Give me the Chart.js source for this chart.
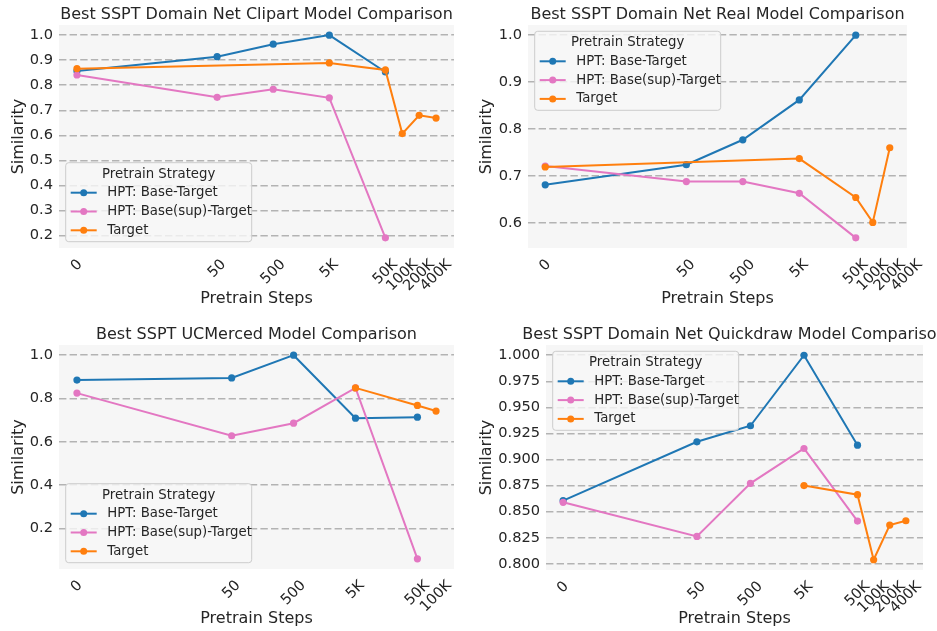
<!DOCTYPE html>
<html>
<head>
<meta charset="utf-8">
<script src="https://cdn.jsdelivr.net/npm/chart.js@4.4.1/dist/chart.umd.min.js"></script>
<style>
  html, body { margin: 0; padding: 0; background: #ffffff; }
  #wrap { position: relative; width: 937px; height: 631px; overflow: hidden; background: #ffffff; }
  canvas { position: absolute; }
</style>
</head>
<body>
<div id="wrap">
  <canvas id="c1" width="468" height="315" style="left:0px;top:0px"></canvas>
  <canvas id="c2" width="469" height="315" style="left:468px;top:0px"></canvas>
  <canvas id="c3" width="468" height="316" style="left:0px;top:315px"></canvas>
  <canvas id="c4" width="469" height="316" style="left:468px;top:315px"></canvas>
</div>
<script>
// ---------------- DATA ----------------
const seriesNames = ['HPT: Base-Target', 'HPT: Base(sup)-Target', 'Target'];
const legendTitle = 'Pretrain Strategy';
const xAxisTitle = 'Pretrain Steps';
const yAxisTitle = 'Similarity';

const stepTicks = [0, 50, 500, 5000, 50000, 100000, 200000, 400000];
const stepTickLabels = ['0', '50', '500', '5K', '50K', '100K', '200K', '400K'];
const ucStepTicks = [0, 50, 500, 5000, 50000, 100000];
const ucStepTickLabels = ['0', '50', '500', '5K', '50K', '100K'];

const hptSteps = [0, 50, 500, 5000, 50000];

// Domain Net Clipart
const clipartTitle = 'Best SSPT Domain Net Clipart Model Comparison';
const clipartBaseTarget = [0.857, 0.914, 0.964, 1.000, 0.853];
const clipartBaseSupTarget = [0.841, 0.752, 0.784, 0.750, 0.191];
const clipartTargetSteps = [0, 5000, 50000, 100000, 200000, 400000];
const clipartTarget = [0.866, 0.889, 0.861, 0.607, 0.680, 0.669];
const clipartYTicks = [0.2, 0.3, 0.4, 0.5, 0.6, 0.7, 0.8, 0.9, 1.0];

// Domain Net Real
const realTitle = 'Best SSPT Domain Net Real Model Comparison';
const realBaseTarget = [0.681, 0.724, 0.777, 0.862, 1.000];
const realBaseSupTarget = [0.721, 0.688, 0.688, 0.663, 0.568];
const realTargetSteps = [0, 5000, 50000, 100000, 200000];
const realTarget = [0.719, 0.737, 0.654, 0.601, 0.760];
const realYTicks = [0.6, 0.7, 0.8, 0.9, 1.0];

// UCMerced
const ucTitle = 'Best SSPT UCMerced Model Comparison';
const ucBaseTarget = [0.885, 0.895, 1.000, 0.709, 0.714];
const ucBaseSupTarget = [0.825, 0.628, 0.686, 0.849, 0.060];
const ucTargetSteps = [5000, 50000, 100000];
const ucTarget = [0.849, 0.768, 0.742];
const ucYTicks = [0.2, 0.4, 0.6, 0.8, 1.0];

// Domain Net Quickdraw
const qdTitle = 'Best SSPT Domain Net Quickdraw Model Comparison';
const qdBaseTarget = [0.8606, 0.9170, 0.9324, 1.0000, 0.9138];
const qdBaseSupTarget = [0.8590, 0.8263, 0.8772, 0.9106, 0.8410];
const qdTargetSteps = [5000, 50000, 100000, 200000, 400000];
const qdTarget = [0.8750, 0.8663, 0.8039, 0.8372, 0.8413];
const qdYTicks = [0.800, 0.825, 0.850, 0.875, 0.900, 0.925, 0.950, 0.975, 1.000];

// ---------------- STYLE ----------------
const COLORS = ['#1f77b4', '#e377c2', '#ff7f0e'];
const TEXT = '#262626';
const FONT = 'DejaVu Sans';
const PLOT_BG = '#f6f6f6';
const ZERO_POS = -0.8; // axis position (in decades) where step 0 is placed

Chart.defaults.font.family = FONT;
Chart.defaults.color = TEXT;

// ---------------- custom log-like step scale ----------------
function stepPos(s) { return s > 0 ? Math.log10(s) : ZERO_POS; }

class StepScale extends Chart.LinearScale {
  determineDataLimits() {
    const mm = this.getMinMax(false);
    const lo = stepPos(mm.min), hi = stepPos(mm.max);
    const m = (hi - lo) * 0.05;
    this.min = lo - m;
    this.max = hi + m;
  }
  buildTicks() { return []; }
  getPixelForValue(v) {
    if (v === null || v === undefined) return NaN;
    return this.getPixelForDecimal((stepPos(v) - this._startValue) / this._valueRange);
  }
}
StepScale.id = 'steps';
StepScale.defaults = {};
Chart.register(StepScale);

// ---------------- plugins ----------------
const bgPlugin = {
  id: 'plotBg',
  beforeDraw(chart) {
    const { ctx, chartArea: ca } = chart;
    ctx.save();
    ctx.fillStyle = PLOT_BG;
    ctx.fillRect(ca.left, ca.top, ca.right - ca.left, ca.bottom - ca.top);
    ctx.restore();
    // matplotlib-like centring of rotated x tick labels on their ticks
    const sc = chart.scales.x;
    const items = sc.getLabelItems(ca);
    items.forEach(it => {
      if (it._fixed) return;
      ctx.save();
      ctx.font = it.font.string;
      const w = ctx.measureText(it.label).width;
      ctx.restore();
      it.options.translation[0] += 0.354 * w;
      it._fixed = true;
    });
  }
};

const titlePlugin = {
  id: 'mplTitle',
  afterDraw(chart, args, opts) {
    const { ctx, chartArea: ca } = chart;
    ctx.save();
    ctx.font = '16px "' + FONT + '"';
    ctx.fillStyle = TEXT;
    ctx.textAlign = 'center';
    ctx.textBaseline = 'alphabetic';
    ctx.fillText(opts.text, (ca.left + ca.right) / 2, ca.top - 6.3);
    ctx.restore();
  }
};

const legendPlugin = {
  id: 'mplLegend',
  afterDatasetsDraw(chart, args, opts) {
    const { ctx, chartArea: ca } = chart;
    const W = 186, H = 79, r = 3;
    const x0 = ca.left + 6.7;
    const y0 = opts.pos === 'top' ? ca.top + 6.3 : ca.bottom - 6.3 - H;
    ctx.save();
    ctx.beginPath();
    ctx.moveTo(x0 + r, y0);
    ctx.lineTo(x0 + W - r, y0);
    ctx.quadraticCurveTo(x0 + W, y0, x0 + W, y0 + r);
    ctx.lineTo(x0 + W, y0 + H - r);
    ctx.quadraticCurveTo(x0 + W, y0 + H, x0 + W - r, y0 + H);
    ctx.lineTo(x0 + r, y0 + H);
    ctx.quadraticCurveTo(x0, y0 + H, x0, y0 + H - r);
    ctx.lineTo(x0, y0 + r);
    ctx.quadraticCurveTo(x0, y0, x0 + r, y0);
    ctx.closePath();
    ctx.fillStyle = 'rgba(246,246,246,0.82)';
    ctx.fill();
    ctx.strokeStyle = '#cccccc';
    ctx.lineWidth = 1;
    ctx.stroke();

    ctx.font = '13.3px "' + FONT + '"';
    ctx.fillStyle = TEXT;
    ctx.textBaseline = 'middle';
    ctx.textAlign = 'center';
    ctx.fillText(legendTitle, x0 + W / 2, y0 + 11.5);
    ctx.textAlign = 'left';
    chart.data.datasets.forEach((ds, i) => {
      const y = y0 + 30 + i * 18.8;
      ctx.strokeStyle = ds.borderColor;
      ctx.lineWidth = 2;
      ctx.beginPath();
      ctx.moveTo(x0 + 5, y);
      ctx.lineTo(x0 + 31, y);
      ctx.stroke();
      ctx.fillStyle = ds.borderColor;
      ctx.beginPath();
      ctx.arc(x0 + 18, y, 3.5, 0, Math.PI * 2);
      ctx.fill();
      ctx.fillStyle = TEXT;
      ctx.fillText(ds.label, x0 + 41.6, y);
    });
    ctx.restore();
  }
};

// ---------------- builders ----------------
function pts(xs, ys) { return xs.map((x, i) => ({ x: x, y: ys[i] })); }

function yRange(arrs) {
  const all = [].concat(...arrs);
  const lo = Math.min(...all), hi = Math.max(...all);
  const m = (hi - lo) * 0.05;
  return { min: lo - m, max: hi + m };
}

function makeChart(id, cfg) {
  const yr = yRange([cfg.base, cfg.sup, cfg.target]);
  const mk = (label, data, color, order) => ({
    label: label, data: data, borderColor: color, backgroundColor: color,
    pointBackgroundColor: color, pointBorderColor: color, pointBorderWidth: 0,
    pointRadius: 3.6, borderWidth: 2, tension: 0, fill: false, order: order
  });
  return new Chart(document.getElementById(id), {
    type: 'line',
    data: {
      datasets: [
        mk(seriesNames[0], pts(hptSteps, cfg.base), COLORS[0], 2),
        mk(seriesNames[1], pts(hptSteps, cfg.sup), COLORS[1], 1),
        mk(seriesNames[2], pts(cfg.tSteps, cfg.target), COLORS[2], 0)
      ]
    },
    plugins: [bgPlugin, titlePlugin, legendPlugin],
    options: {
      responsive: false,
      animation: false,
      events: [],
      layout: { padding: cfg.pad },
      plugins: {
        legend: { display: false },
        tooltip: { enabled: false },
        mplTitle: { text: cfg.title },
        mplLegend: { pos: cfg.legendPos }
      },
      scales: {
        x: {
          type: 'steps',
          position: 'bottom',
          grid: { display: false, drawTicks: false },
          border: { display: false },
          afterBuildTicks: s => { s.ticks = cfg.xTicks.map(v => ({ value: v })); },
          afterFit: s => { s.height = cfg.xH; },
          ticks: {
            autoSkip: false, minRotation: 45, maxRotation: 45, padding: 8,
            font: { size: 14.6 }, color: TEXT,
            callback: (v, i) => cfg.xLabels[i]
          },
          title: { display: true, text: xAxisTitle, font: { size: 16 }, color: TEXT,
                   padding: { top: 0, bottom: cfg.xTitlePad } }
        },
        y: {
          type: 'linear',
          min: yr.min, max: yr.max,
          afterBuildTicks: s => { s.ticks = cfg.yTicks.map(v => ({ value: v })); },
          afterFit: s => { s.width = cfg.yW; },
          grid: { display: true, drawTicks: false, color: '#b3b3b3', lineWidth: 1.6 },
          border: { display: false, dash: [7.4, 3.2] },
          ticks: { padding: 6, font: { size: 14.6 }, color: TEXT,
                   callback: v => v.toFixed(cfg.yDec) },
          title: { display: true, text: yAxisTitle, font: { size: 16 }, color: TEXT,
                   padding: { top: 9.4, bottom: 0 } }
        }
      }
    }
  });
}

makeChart('c1', {
  title: clipartTitle, base: clipartBaseTarget, sup: clipartBaseSupTarget,
  tSteps: clipartTargetSteps, target: clipartTarget,
  xTicks: stepTicks, xLabels: stepTickLabels, yTicks: clipartYTicks, yDec: 1,
  pad: { left: 0, top: 25, right: 14, bottom: 0 }, yW: 59, xH: 67, xTitlePad: 6.4,
  legendPos: 'bottom'
});
makeChart('c2', {
  title: realTitle, base: realBaseTarget, sup: realBaseSupTarget,
  tSteps: realTargetSteps, target: realTarget,
  xTicks: stepTicks, xLabels: stepTickLabels, yTicks: realYTicks, yDec: 1,
  pad: { left: 0, top: 25, right: 30, bottom: 0 }, yW: 60, xH: 67, xTitlePad: 6.4,
  legendPos: 'top'
});
makeChart('c3', {
  title: ucTitle, base: ucBaseTarget, sup: ucBaseSupTarget,
  tSteps: ucTargetSteps, target: ucTarget,
  xTicks: ucStepTicks, xLabels: ucStepTickLabels, yTicks: ucYTicks, yDec: 1,
  pad: { left: 0, top: 30, right: 14, bottom: 0 }, yW: 59, xH: 62, xTitlePad: 2.4,
  legendPos: 'bottom'
});
makeChart('c4', {
  title: qdTitle, base: qdBaseTarget, sup: qdBaseSupTarget,
  tSteps: qdTargetSteps, target: qdTarget,
  xTicks: stepTicks, xLabels: stepTickLabels, yTicks: qdYTicks, yDec: 3,
  pad: { left: 0, top: 30, right: 14, bottom: 0 }, yW: 78, xH: 61, xTitlePad: 2.4,
  legendPos: 'top'
});
</script>
</body>
</html>
